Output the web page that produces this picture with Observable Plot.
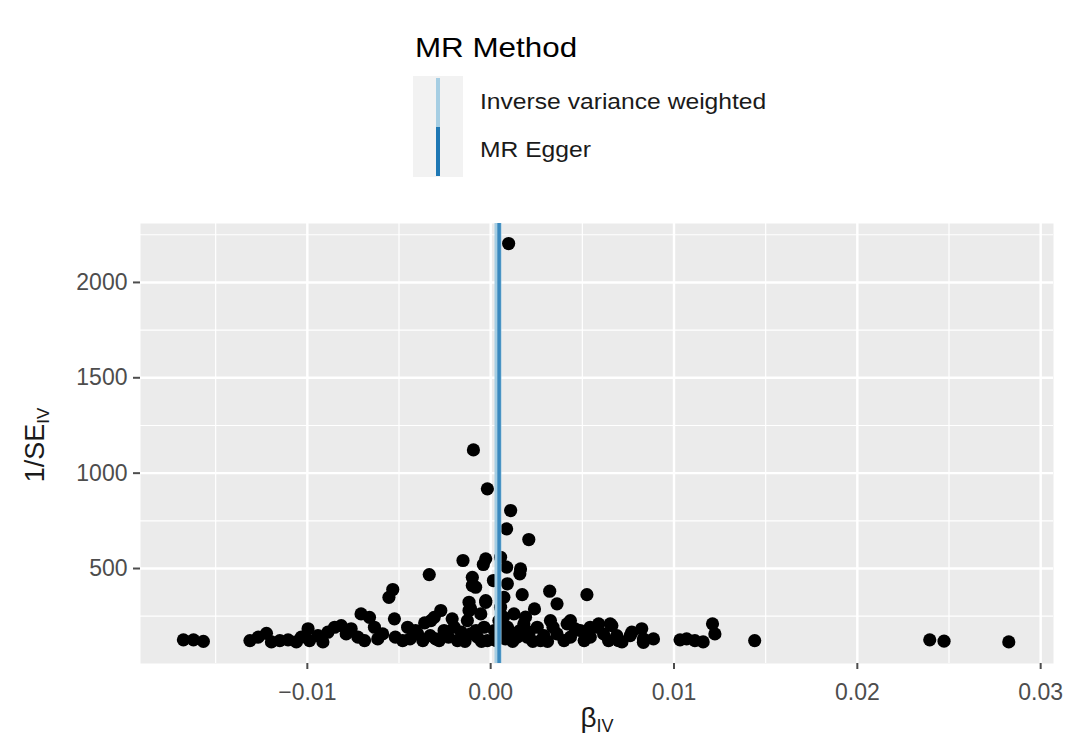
<!DOCTYPE html>
<html><head><meta charset="utf-8">
<script src="https://cdn.jsdelivr.net/npm/d3@7"></script>
<script src="https://cdn.jsdelivr.net/npm/@observablehq/plot@0.6"></script>
<style>
body{margin:0;background:#fff;font-family:"Liberation Sans",Arial,Helvetica,sans-serif;}
#wrap{width:1070px;}
#legend{position:relative;width:1070px;height:200px;}
#legend .t{position:absolute;white-space:nowrap;transform-origin:0 0;transform:scaleX(1.12);}
</style></head><body>
<div id="wrap"><div id="legend"></div><div id="chart"></div></div>
<script>
// ---- data ----
const betaIV = [
  0.00098,-0.00094,-0.00018,0.00109,0.00087,0.00208,-0.00151,-0.00027,-0.0004,0.00054,
  0.00087,0.00163,0.00159,-0.00335,-0.001,-0.001,0.00015,0.00091,0.00172,0.00322,
  0.00525,0.00362,0.00239,-0.00118,-0.00109,-0.00027,0.00072,-0.00082,-0.00534,-0.00555,
  -0.00027,-0.00525,-0.00272,-0.00326,-0.00118,0.00435,0.00054,0.00127,-0.00054,
  -0.01676,-0.01621,-0.01567,-0.01313,-0.01268,-0.01223,-0.01196,-0.0115,-0.01105,-0.0106,
  -0.01033,-0.00996,-0.00988,-0.00942,-0.00915,-0.00888,-0.00851,-0.00815,-0.00788,-0.00761,
  -0.00724,-0.00707,-0.00661,-0.00688,-0.00634,-0.00616,-0.00589,
  -0.00453,-0.00398,-0.0036,-0.00308,-0.00254,-0.00281,-0.00199,-0.00181,-0.00127,-0.00109,
  -0.00036,-0.00018,-0.00072,0.00045,0.00054,0.00091,0.00145,0.00181,0.00199,0.00254,
  0.00272,0.00326,0.00362,0.00417,0.00435,0.00489,0.00543,0.0058,
  -0.0052,-0.0048,-0.0044,-0.0041,-0.0037,-0.0033,-0.003,-0.0023,-0.0016,-0.0014,
  -0.0008,-0.0005,0.0002,0.0003,0.0008,0.0011,0.0012,0.0016,0.0021,0.0023,
  0.0029,0.0031,0.0034,0.004,0.0046,0.0051,-0.0021,0.0007,0.0019,
  0.00543,0.00589,0.00616,0.00661,0.00688,0.00716,0.00761,0.00824,0.00833,0.00888,
  0.00652,0.00643,0.00697,0.0077,0.00833,
  0.01033,0.01069,0.01114,0.01159,0.0121,0.01223,0.0144,0.02395,0.02473,0.02826
];
const invSE = [
  2204,1122,918,804,708,652,542,551,521,559,
  507,498,472,468,454,411,437,420,363,381,
  363,315,288,323,288,323,349,402,390,349,
  332,236,280,227,280,227,297,262,262,
  126,126,118,122,140,160,115,122,126,115,
  140,184,122,148,115,166,192,201,157,184,
  140,262,244,122,192,131,157,
  192,157,215,244,175,122,192,122,227,157,
  192,122,140,227,157,192,140,210,140,192,
  122,227,157,210,140,175,140,192,
  140,122,131,175,122,148,131,140,166,118,
  175,118,175,122,131,166,118,175,166,118,
  148,118,192,122,184,122,236,245,245,
  192,210,157,201,148,115,148,184,131,131,
  210,122,122,166,113,
  126,131,122,115,210,157,122,126,119,115
];
const xMajor = [-0.01, 0, 0.01, 0.02, 0.03];
const xMinor = [-0.015, -0.005, 0.005, 0.015, 0.025];
const yMajor = [500, 1000, 1500, 2000];
const yMinor = [250, 750, 1250, 1750, 2250];
const methods = ["Inverse variance weighted", "MR Egger"];
const methodColors = ["#A6CEE3", "#1F78B4"];
const methodBeta = [0.00040, 0.00046];
const legendTitle = "MR Method";

const points = betaIV.map((b, i) => ({b, v: invSE[i]}));
const lines = methods.map((m, i) => ({method: m, b: methodBeta[i], color: methodColors[i]}));

// ---- legend (HTML, above the svg) ----
const lg = d3.select("#legend");
lg.append("div").attr("class","t").style("left","415px").style("top","34px")
  .style("font-size","28px").style("line-height","28px").style("color","#000").text(legendTitle);
lg.append("div").style("position","absolute").style("left","413px").style("top","76px")
  .style("width","50px").style("height","101px").style("background","#F2F2F2");
methods.forEach((m, i) => {
  lg.append("div").style("position","absolute").style("left","436px").style("top", (78 + i*49) + "px")
    .style("width","4px").style("height","49px").style("background", methodColors[i]);
  lg.append("div").attr("class","t").style("left","480px").style("top", (91 + i*48) + "px")
    .style("font-size","22px").style("line-height","22px").style("color","#1a1a1a").text(m);
});

// ---- chart ----
const chart = Plot.plot({
  width: 1070, height: 550,
  marginTop: 23, marginBottom: 87, marginLeft: 140, marginRight: 17,
  style: {fontFamily: "'Liberation Sans', Arial, sans-serif", background: "#fff", overflow: "visible"},
  x: {domain: [-0.0191, 0.0307], label: null},
  y: {domain: [2, 2309], label: null},
  marks: [
    Plot.frame({fill: "#EBEBEB", stroke: null}),
    Plot.gridX(xMinor, {stroke: "#fff", strokeOpacity: 1, strokeWidth: 1.2}),
    Plot.gridY(yMinor, {stroke: "#fff", strokeOpacity: 1, strokeWidth: 1.2}),
    Plot.gridX(xMajor, {stroke: "#fff", strokeOpacity: 1, strokeWidth: 2.4}),
    Plot.gridY(yMajor, {stroke: "#fff", strokeOpacity: 1, strokeWidth: 2.4}),
    Plot.dot(points, {x: "b", y: "v", r: 6.6, fill: "#000", stroke: null}),
    Plot.ruleX([lines[0]], {x: "b", stroke: methodColors[0], strokeWidth: 7}),
    Plot.ruleX([lines[1]], {x: "b", stroke: methodColors[1], strokeWidth: 3.5, strokeOpacity: 0.8}),
    Plot.axisX(xMajor, {tickSize: 6, tickPadding: 14, fontSize: 23, strokeWidth: 2, color: "#4D4D4D",
      tickFormat: d3.format(".2f"), label: null}),
    Plot.axisY(yMajor, {tickSize: 7, tickPadding: 6, fontSize: 23, strokeWidth: 2, color: "#4D4D4D",
      tickFormat: d3.format("d"), label: null})
  ]
});
document.getElementById("chart").appendChild(chart);

// axis titles with subscripts
const svg = d3.select(chart);
const yt = svg.append("text").attr("transform", "translate(44,245) rotate(-90)")
  .attr("text-anchor", "middle").attr("font-size", 27).attr("fill", "#1a1a1a");
yt.append("tspan").text("1/SE");
yt.append("tspan").attr("font-size", 17).attr("dy", "0.3em").text("IV");
const xt = svg.append("text").attr("transform", "translate(597,527)")
  .attr("text-anchor", "middle").attr("font-size", 28).attr("fill", "#1a1a1a");
xt.append("tspan").text("β");
xt.append("tspan").attr("font-size", 18).attr("dy", "0.3em").text("IV");
</script>
</body></html>
